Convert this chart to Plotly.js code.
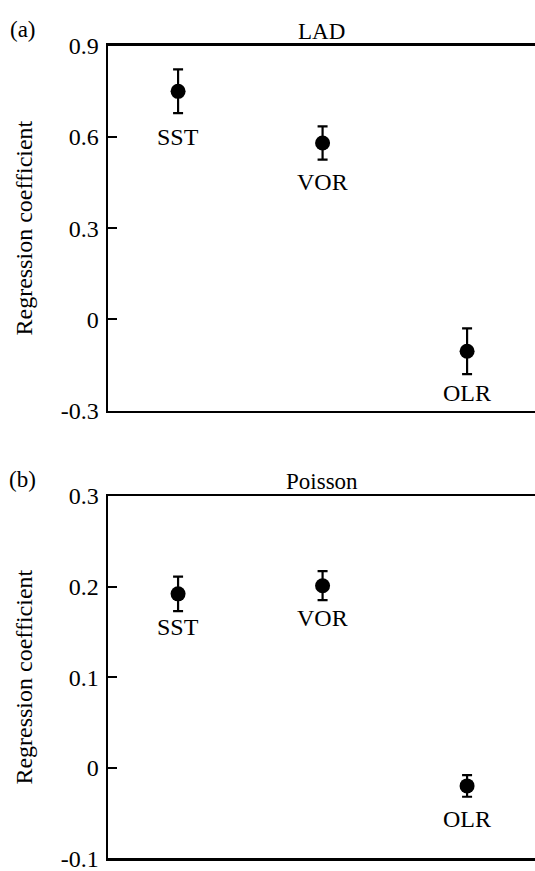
<!DOCTYPE html>
<html>
<head>
<meta charset="utf-8">
<script src="https://cdn.plot.ly/plotly-3.0.1.min.js"></script>
<style>html,body{margin:0;padding:0;background:#fff;}#chart{width:535px;height:871px;}</style>
</head>
<body>
<div id="chart"></div>
<script>
// ---- data ----
const categories = ['SST', 'VOR', 'OLR'];
const ladCoef = [0.75, 0.58, -0.105];
const ladErr = [0.072, 0.055, 0.075];
const poissonCoef = [0.192, 0.201, -0.020];
const poissonErr = [0.019, 0.016, 0.012];
const ladTickVals = [-0.3, 0, 0.3, 0.6, 0.9];
const ladTickText = ['-0.3', '0', '0.3', '0.6', '0.9'];
const poissonTickVals = [-0.1, 0, 0.1, 0.2, 0.3];
const poissonTickText = ['-0.1', '0', '0.1', '0.2', '0.3'];
const panelTitles = ['LAD', 'Poisson'];
const panelTags = ['(a)', '(b)'];
const yTitle = 'Regression coefficient';

// ---- layout config (label gap below each error bar, px) ----
const ladLabelGap = [24, 22, 19];
const poissonLabelGap = [16, 18, 22];

const FONT = '"Liberation Serif", "Times New Roman", Times, serif';

function trace(coef, err, xa, ya) {
  return {
    type: 'scatter', mode: 'markers', x: categories, y: coef,
    xaxis: xa, yaxis: ya,
    marker: {color: '#000', size: 15},
    error_y: {type: 'data', array: err, visible: true, color: '#000', thickness: 2.2, width: 5},
    showlegend: false, hoverinfo: 'skip'
  };
}

const data = [
  trace(ladCoef, ladErr, 'x', 'y'),
  trace(poissonCoef, poissonErr, 'x2', 'y2')
];

const annotations = [];
function pointLabels(coef, err, gaps, xr, yr) {
  categories.forEach((c, i) => {
    annotations.push({
      x: c, y: coef[i] - err[i], xref: xr, yref: yr,
      text: c, showarrow: false, yanchor: 'middle', yshift: -gaps[i],
      font: {family: FONT, size: 24, color: '#000'}
    });
  });
}
pointLabels(ladCoef, ladErr, ladLabelGap, 'x', 'y');
pointLabels(poissonCoef, poissonErr, poissonLabelGap, 'x2', 'y2');

const topDomain = [0.5287, 0.9475];
const botDomain = [0.0145, 0.4305];
[[topDomain, 0], [botDomain, 1]].forEach(([dom, k]) => {
  annotations.push({
    xref: 'paper', yref: 'paper', x: 0.5, y: dom[1], yanchor: 'bottom', yshift: 0,
    text: panelTitles[k], showarrow: false, font: {family: FONT, size: 23, color: '#000'}
  });
  annotations.push({
    xref: 'paper', yref: 'paper', x: -0.2, xanchor: 'center', y: dom[1], yanchor: 'bottom', yshift: 2,
    text: panelTags[k], showarrow: false, font: {family: FONT, size: 23, color: '#000'}
  });
});

function xAxis(anchor) {
  return {
    anchor: anchor, domain: [0, 1], type: 'category', range: [-0.485, 2.47],
    showline: true, linecolor: '#000', linewidth: 2.5, mirror: true,
    showgrid: false, zeroline: false, ticks: '', showticklabels: false, fixedrange: true
  };
}
function yAxis(anchor, dom, range, tv, tt) {
  return {
    anchor: anchor, domain: dom, range: range,
    tickmode: 'array', tickvals: tv, ticktext: tt,
    ticks: 'inside', ticklen: 9, tickwidth: 2, tickcolor: '#000',
    ticklabelstandoff: 2, ticklabeloverflow: 'allow',
    showline: true, linecolor: '#000', linewidth: 2.5, mirror: false,
    showgrid: false, zeroline: false,
    tickfont: {family: FONT, size: 24, color: '#000'},
    title: {text: yTitle, font: {family: FONT, size: 24, color: '#000'}, standoff: 22},
    automargin: false, fixedrange: true
  };
}

const layout = {
  width: 535, height: 871,
  margin: {l: 108, r: 0, t: 0, b: 0},
  paper_bgcolor: '#fff', plot_bgcolor: '#fff',
  font: {family: FONT, color: '#000'},
  xaxis: xAxis('y'),
  xaxis2: xAxis('y2'),
  yaxis: yAxis('x', topDomain, [-0.3, 0.9], ladTickVals, ladTickText),
  yaxis2: yAxis('x2', botDomain, [-0.1, 0.3], poissonTickVals, poissonTickText),
  annotations: annotations
};

Plotly.newPlot('chart', data, layout, {displayModeBar: false, staticPlot: true});
</script>
</body>
</html>
